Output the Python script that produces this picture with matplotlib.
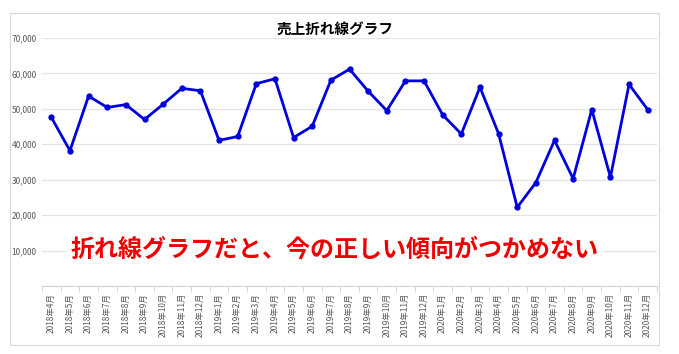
import matplotlib
matplotlib.use('Agg')
from matplotlib import pyplot as plt
from matplotlib.patches import Rectangle
from matplotlib.ticker import FuncFormatter, FixedLocator

plt.rcParams['font.family'] = ['Noto Sans CJK JP', 'DejaVu Sans']

months = [f'{y}年{m}月' for y, m in
          [(2018, m) for m in range(4, 13)] + [(2019, m) for m in range(1, 13)] + [(2020, m) for m in range(1, 13)]]
sales = [47600, 38200, 53600, 50400, 51200, 47000, 51300, 55800, 55100,
         41100, 42200, 57100, 58500, 41900, 45100, 58100, 61200, 55000, 49500, 57900, 57900,
         48300, 42900, 56100, 43000, 22200, 29200, 41100, 30300, 49800, 30700, 56900, 49800]
yticks = [10000, 20000, 30000, 40000, 50000, 60000, 70000]
title = '売上折れ線グラフ'
note = '折れ線グラフだと、今の正しい傾向がつかめない'

W, H = 679, 354
fig = plt.figure(figsize=(W / 100, H / 100), dpi=100)

# outer chart frame
fig.patches.append(Rectangle((10 / W, (H - 345) / H), 649 / W, 332 / H, transform=fig.transFigure,
                             fill=False, edgecolor='#d9d9d9', linewidth=0.8))

ax = fig.add_axes([42 / W, (H - 286) / H, 615 / W, 248 / H])
x = range(len(sales))
ax.plot(x, sales, color='#0000dd', linewidth=2, marker='o', markersize=3.5, zorder=3)

ax.set_xlim(-0.5, len(sales) - 0.5)
ax.set_ylim(0, 70000)
ax.yaxis.set_major_locator(FixedLocator(yticks))
ax.yaxis.set_major_formatter(FuncFormatter(lambda v, p: f'{int(v):,}'))
ax.grid(axis='y', color='#e3e3e3', linewidth=0.9)
ax.set_axisbelow(True)

ax.set_xticks(list(x))
ax.set_xticklabels(months, rotation=90, fontsize=6, color='#595959')
ax.set_xticks([i - 0.5 for i in range(len(sales) + 1)], minor=True)
ax.tick_params(axis='x', which='major', length=0, pad=5)
ax.tick_params(axis='x', which='minor', length=4, color='#d0d0d0')
ax.tick_params(axis='y', length=0, labelsize=6, labelcolor='#595959', pad=4)

for s in ['top', 'right', 'left']:
    ax.spines[s].set_visible(False)
ax.spines['bottom'].set_color('#d0d0d0')

fig.text(335 / W, 1 - 29 / H, title, ha='center', va='center', fontsize=10.5, fontweight='bold')
fig.text(335 / W, 1 - 250 / H, note, ha='center', va='center', fontsize=17.3, fontweight='bold',
         color='#ee0000', bbox=dict(facecolor='white', edgecolor='none', pad=3))

fig.savefig('out.png', dpi=100)
